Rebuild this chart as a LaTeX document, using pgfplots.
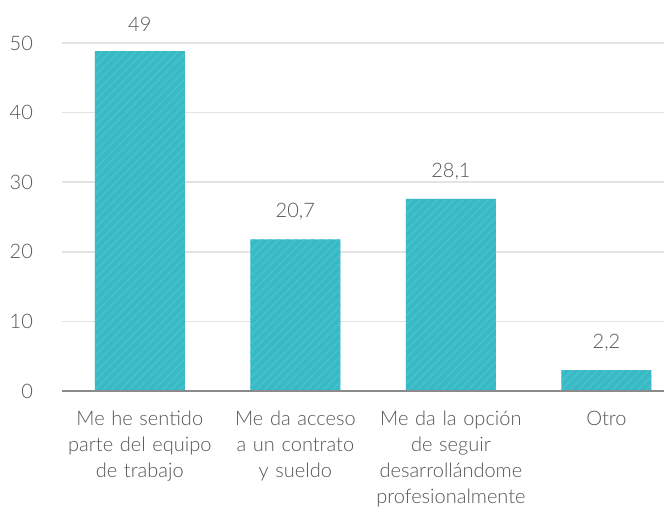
\documentclass[border=0pt]{standalone}
\usepackage{pgfplots}
\pgfplotsset{compat=1.18}
\usepackage{pgfplotstable}
\usetikzlibrary{patterns.meta}
\usepackage{fontspec}
\setmainfont{Lato}[UprightFont=* Light]
\definecolor{barc}{HTML}{36BAC6}
\definecolor{stripe}{HTML}{48C0CB}
\definecolor{txt}{HTML}{555555}
\definecolor{gridc}{HTML}{E3E3E3}
\definecolor{basec}{HTML}{8A8A8A}

\pgfplotstableread[col sep=semicolon]{
x;y;label
0;48.85;49
1;21.8;20,7
2;27.6;28,1
3;3.0;2,2
}\datatable

\begin{document}
\begin{tikzpicture}
\useasboundingbox (-31pt,-59.5pt) rectangle (301pt,195.5pt);
\begin{axis}[
  scale only axis, width=301pt, height=174pt,
  ymin=0, ymax=50, xmin=-0.5, xmax=3.37,
  axis line style={draw=none},
  major tick length=0pt,
  ymajorgrids, grid style={gridc, line width=0.8pt},
  ytick={0,10,20,30,40,50},
  xtick={0,1,2,3},
  xticklabels={{Me he sentido\\parte del equipo\\de trabajo},{Me da acceso\\a un contrato\\y sueldo},{Me da la opción\\de seguir\\desarrollándome\\profesionalmente},{Otro}},
  /pgf/number format/assume math mode=true,
  tick label style={txt, font=\fontsize{10}{13}\selectfont},
  xticklabel style={align=center, text width=90pt, yshift=-6.5pt},
  yticklabel style={xshift=-11pt},
  clip=false,
  nodes near coords,
  point meta=explicit symbolic,
  every node near coord/.append style={txt, font=\fontsize{10}{13}\selectfont, yshift=6pt},
]
\addplot[ybar, bar width=45pt, fill=barc, draw=none,
  postaction={pattern={Lines[angle=45,distance=3pt,line width=0.9pt]}, pattern color=stripe}]
  table[x=x, y=y, meta=label]{\datatable};
\draw[basec, line width=0.8pt] (axis cs:-0.5,0) -- (axis cs:3.37,0);
\end{axis}
\end{tikzpicture}
\end{document}
